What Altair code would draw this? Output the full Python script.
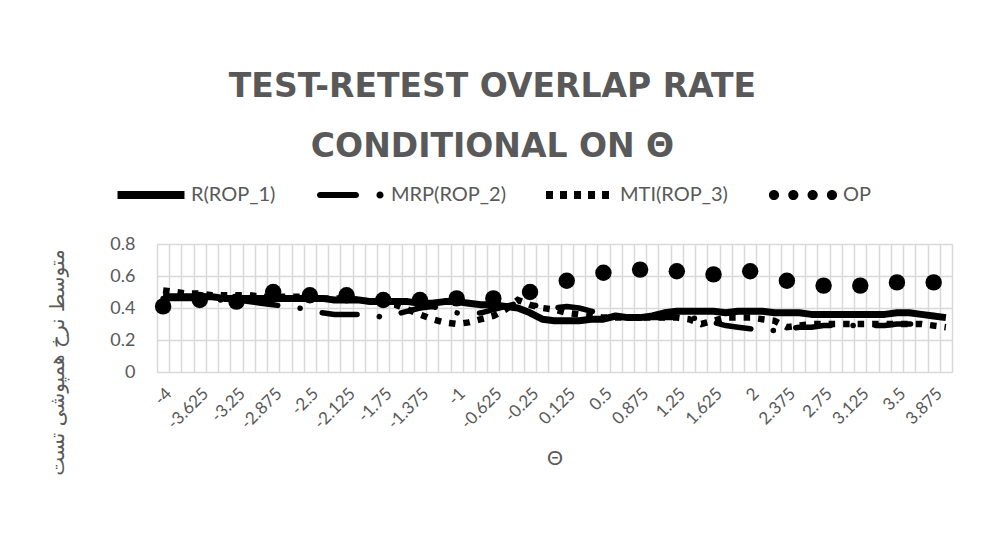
import json
import altair as alt
import pandas as pd

# ---------------- data ----------------
theta = [f"{-4 + 0.125 * i:g}" for i in range(65)]
x_tick_labels = theta[::3]

R_vals = [0.47, 0.47, 0.47, 0.47, 0.47, 0.46, 0.46, 0.46, 0.46, 0.46,
          0.46, 0.46, 0.46, 0.46, 0.45, 0.45, 0.45, 0.44, 0.44, 0.44,
          0.44, 0.43, 0.43, 0.44, 0.44, 0.43, 0.42, 0.42, 0.41, 0.40,
          0.37, 0.33, 0.32, 0.32, 0.32, 0.33, 0.33, 0.35, 0.34, 0.34,
          0.35, 0.37, 0.38, 0.38, 0.38, 0.38, 0.37, 0.38, 0.38, 0.38,
          0.37, 0.37, 0.37, 0.36, 0.36, 0.36, 0.36, 0.36, 0.36, 0.36,
          0.37, 0.37, 0.36, 0.35, 0.34]

MRP_vals = [0.46, 0.46, 0.46, 0.46, 0.45, 0.45, 0.45, 0.44, 0.43, 0.42,
            0.41, 0.40, 0.39, 0.37, 0.36, 0.36, 0.36, 0.36, 0.34, 0.36,
            0.38, 0.40, 0.41, 0.39, 0.37, 0.36, 0.37, 0.39, 0.41, 0.43,
            0.42, 0.41, 0.40, 0.41, 0.40, 0.38, 0.36, 0.35, 0.34, 0.34,
            0.34, 0.34, 0.34, 0.34, 0.33, 0.31, 0.29, 0.28, 0.27, 0.26,
            0.26, 0.27, 0.28, 0.28, 0.29, 0.29, 0.29, 0.29, 0.29, 0.29,
            0.30, 0.30, 0.30, 0.29, 0.29]

MTI_vals = [0.51, 0.50, 0.49, 0.49, 0.48, 0.48, 0.48, 0.48, 0.47, 0.47,
            0.47, 0.47, 0.47, 0.46, 0.46, 0.46, 0.45, 0.44, 0.43, 0.42,
            0.39, 0.36, 0.33, 0.31, 0.30, 0.31, 0.33, 0.35, 0.39, 0.45,
            0.42, 0.40, 0.39, 0.37, 0.36, 0.35, 0.34, 0.34, 0.34, 0.34,
            0.34, 0.34, 0.34, 0.33, 0.30, 0.32, 0.34, 0.34, 0.34, 0.33,
            0.32, 0.28, 0.29, 0.30, 0.30, 0.30, 0.30, 0.30, 0.30, 0.30,
            0.30, 0.30, 0.30, 0.29, 0.28]

OP_theta = theta[::3]
OP_vals = [0.41, 0.45, 0.44, 0.50, 0.48, 0.48, 0.45, 0.45, 0.46, 0.46, 0.50,
           0.57, 0.62, 0.64, 0.63, 0.61, 0.63, 0.57, 0.54, 0.54, 0.56, 0.56]

series_names = ["R(ROP_1)", "MRP(ROP_2)", "MTI(ROP_3)", "OP"]
y_ticks = [0, 0.2, 0.4, 0.6, 0.8]

title_lines = ["TEST-RETEST OVERLAP RATE", "CONDITIONAL ON \u0398"]
x_title = "\u0398"
y_title = "متوسط نرخ همپوشی تست"

# ---------------- tables ----------------
lines_df = pd.concat([
    pd.DataFrame({"theta": theta, "value": R_vals, "series": series_names[0]}),
    pd.DataFrame({"theta": theta, "value": MRP_vals, "series": series_names[1]}),
    pd.DataFrame({"theta": theta, "value": MTI_vals, "series": series_names[2]}),
], ignore_index=True)
op_df = pd.DataFrame({"theta": OP_theta, "value": OP_vals, "series": series_names[3]})
legend_df = pd.DataFrame({"series": series_names})

# ---------------- legend symbols (custom paths in [-1, 1]) ----------------
def circ(cx, cy, r):
    return f"M{cx - r:.3f},{cy:.3f}A{r:.3f},{r:.3f} 0 1 0 {cx + r:.3f},{cy:.3f}A{r:.3f},{r:.3f} 0 1 0 {cx - r:.3f},{cy:.3f}Z"

sym_R = "M-0.985,-0.12H0.985V0.12H-0.985Z"
r_ = 0.09
sym_MRP = (f"M-0.91,{-r_}H0.145A{r_},{r_} 0 0 1 0.145,{r_}H-0.91A{r_},{r_} 0 0 1 -0.91,{-r_}Z"
           + circ(0.853, 0, 0.105))
sym_MTI = "".join(f"M{s:.3f},-0.118H{s + 0.206:.3f}V0.118H{s:.3f}Z"
                  for s in [-1.0, -0.588, -0.176, 0.236, 0.648])
sym_OP = "".join(circ(c, 0, 0.15) for c in [-0.853, -0.284, 0.284, 0.853])

GRAY = "#595959"
FONT = "Lato"

label_expr = f"indexof({json.dumps(x_tick_labels)}, datum.value) >= 0 ? datum.value : ''"

x_enc = alt.X(
    "theta:O",
    scale=alt.Scale(type="band", domain=theta, paddingInner=0, paddingOuter=0),
    bandPosition=0.5,
    axis=alt.Axis(
        title=x_title, titleFont=FONT, titleFontSize=20, titleColor=GRAY,
        titleFontWeight="normal", titleY=86, titleBaseline="middle",
        labelExpr=label_expr, labelAngle=-45, labelFont=FONT, labelFontSize=17,
        labelColor=GRAY, labelPadding=13, labelOverlap=False,
        ticks=False, domain=False, grid=True, tickBand="extent",
        gridColor="#d9d9d9", gridWidth=1.5,
    ),
)
y_enc = alt.Y(
    "value:Q",
    scale=alt.Scale(domain=[0, 0.8], nice=False),
    axis=alt.Axis(
        values=y_ticks, format=".1~f", title=y_title, titleFont="DejaVu Sans",
        titleFontSize=20, titleColor=GRAY, titleFontWeight="normal",
        titleX=-100, titleY=118, titleAngle=-90, titleBaseline="middle", titleAlign="center",
        labelFont=FONT, labelFontSize=18, labelColor=GRAY, labelPadding=22,
        ticks=False, domain=False, grid=True, gridColor="#d9d9d9", gridWidth=1.5,
    ),
)

base = alt.Chart(lines_df)

r_line = base.transform_filter(alt.datum.series == series_names[0]).mark_line(
    color="black", strokeWidth=7, strokeJoin="round"
).encode(x=x_enc, y=y_enc)

mrp_line = base.transform_filter(alt.datum.series == series_names[1]).mark_line(
    color="black", strokeWidth=5.5, strokeCap="round", strokeJoin="round",
    strokeDash=[35, 22.5, 0.1, 22.5]
).encode(x=x_enc, y=y_enc)

mti_line = base.transform_filter(alt.datum.series == series_names[2]).mark_line(
    color="black", strokeWidth=6.5, strokeCap="butt", strokeJoin="miter",
    strokeDash=[6.5, 8]
).encode(x=x_enc, y=y_enc)

op_pts = alt.Chart(op_df).mark_circle(color="black", size=270, opacity=1).encode(x=x_enc, y=y_enc)

legend_layer = alt.Chart(legend_df).transform_filter("false").mark_point(
    filled=True, color="black", opacity=1
).encode(
    shape=alt.Shape(
        "series:N",
        scale=alt.Scale(domain=series_names, range=[sym_R, sym_MRP, sym_MTI, sym_OP]),
        legend=alt.Legend(
            title=None, orient="none", direction="horizontal",
            legendX=-40, legendY=-83, symbolSize=4624,
            symbolFillColor="black", symbolStrokeWidth=0, symbolOpacity=1,
            labelFont=FONT, labelFontSize=20, labelColor=GRAY, labelOffset=6,
            columnPadding=40, padding=0,
        ),
    )
)

chart = alt.layer(r_line, mrp_line, mti_line, op_pts, legend_layer).properties(
    width=795,
    height=128,
    title=alt.TitleParams(
        text=title_lines, font="DejaVu Sans", fontSize=33, fontWeight="bold", color=GRAY,
        anchor="middle", dx=-62, lineHeight=60, offset=-3,
    ),
    autosize=alt.AutoSizeParams(type="none"),
    padding={"left": 149, "top": 236, "right": 15, "bottom": 140},
).configure_view(stroke=None).configure(background="white")

chart.save("out.html", embed_options={"renderer": "svg", "actions": False})
